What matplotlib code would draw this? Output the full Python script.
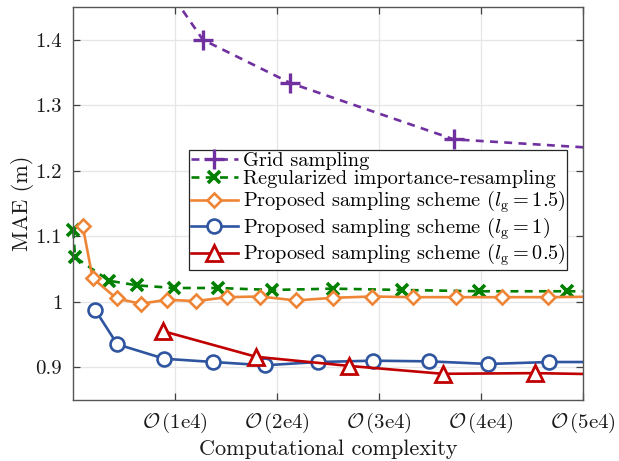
import matplotlib
matplotlib.use("Agg")
import matplotlib.pyplot as plt
from matplotlib.ticker import FixedLocator

plt.rcParams['font.family'] = 'serif'
plt.rcParams['font.serif'] = ['cmr10']
plt.rcParams['mathtext.fontset'] = 'cm'
plt.rcParams['axes.unicode_minus'] = False
plt.rcParams['axes.formatter.use_mathtext'] = True

# ---- data (x in units of computations, y = MAE in m) ----
grid_x = [0.90e4, 1.272e4, 2.13e4, 3.735e4, 5.3e4]
grid_y = [1.484, 1.400, 1.334, 1.248, 1.233]

reg_x = [0.0, 0.017e4, 0.353e4, 0.628e4, 0.99e4, 1.423e4, 1.948e4, 2.553e4,
         3.224e4, 3.986e4, 4.844e4, 5.0e4]
reg_y = [1.109, 1.068, 1.032, 1.025, 1.021, 1.021, 1.018, 1.020,
         1.018, 1.016, 1.016, 1.016]

p15_x = [0.092e4, 0.19e4, 0.426e4, 0.66e4, 0.923e4, 1.2e4, 1.512e4, 1.833e4,
         2.187e4, 2.547e4, 2.93e4, 3.332e4, 3.757e4, 4.206e4, 4.664e4, 5.3e4]
p15_y = [1.116, 1.036, 1.005, 0.997, 1.003, 1.001, 1.007, 1.008,
         1.002, 1.006, 1.008, 1.007, 1.007, 1.007, 1.007, 1.008]

p1_x = [0.213e4, 0.432e4, 0.893e4, 1.375e4, 1.882e4, 2.406e4, 2.94e4,
        3.496e4, 4.075e4, 4.674e4, 5.3e4]
p1_y = [0.988, 0.935, 0.913, 0.908, 0.903, 0.908, 0.910,
        0.909, 0.905, 0.908, 0.908]

p05_x = [0.884e4, 1.794e4, 2.71e4, 3.627e4, 4.533e4, 5.3e4]
p05_y = [0.955, 0.916, 0.902, 0.890, 0.891, 0.889]

xticks = [1e4, 2e4, 3e4, 4e4, 5e4]
xticklabels = [r'$\mathcal{O}\,(\mathrm{1e4})$', r'$\mathcal{O}\,(\mathrm{2e4})$',
               r'$\mathcal{O}\,(\mathrm{3e4})$', r'$\mathcal{O}\,(\mathrm{4e4})$',
               r'$\mathcal{O}\,(\mathrm{5e4})$']
yticks = [0.9, 1.0, 1.1, 1.2, 1.3, 1.4]
yticklabels = ['0.9', '1', '1.1', '1.2', '1.3', '1.4']

labels = ['Grid sampling', 'Regularized importance-resampling',
          r'Proposed sampling scheme ($l_{\mathrm{g}}=1.5$)',
          r'Proposed sampling scheme ($l_{\mathrm{g}}=1$)',
          r'Proposed sampling scheme ($l_{\mathrm{g}}=0.5$)']

c_purple = '#7030A0'
c_green = '#008000'
c_orange = '#EE8536'
c_blue = '#2F55A0'
c_red = '#C00000'

fig = plt.figure(figsize=(6.19, 4.61), dpi=100)
ax = fig.add_axes([73.3/619, 1-400/461, (582.6-73.3)/619, (400-7)/461])

lw = 1.9
dash = (0, (3.0, 2.4))
ax.plot(grid_x, grid_y, color=c_purple, lw=lw, ls=dash, marker='+',
        ms=14, mew=2.4, label=labels[0])
ax.plot(reg_x, reg_y, color=c_green, lw=lw, ls=dash, marker='x',
        ms=9, mew=2.6, label=labels[1], clip_on=False,
        markevery=list(range(len(reg_x) - 1)))
ax.plot(p15_x, p15_y, color=c_orange, lw=lw, marker='D', ms=7.5, mew=1.9,
        mfc='white', label=labels[2])
ax.plot(p1_x, p1_y, color=c_blue, lw=lw, marker='o', ms=10, mew=1.9,
        mfc='white', label=labels[3])
ax.plot(p05_x, p05_y, color=c_red, lw=lw, marker='^', ms=11, mew=2.0,
        mfc='white', label=labels[4])

ax.set_xlim(0, 5e4)
ax.set_ylim(0.85, 1.45)
ax.xaxis.set_major_locator(FixedLocator(xticks))
ax.set_xticklabels(xticklabels)
ax.yaxis.set_major_locator(FixedLocator(yticks))
ax.set_yticklabels(yticklabels)
ax.grid(True, color='#e6e6e6', lw=0.9)
ax.set_axisbelow(True)
ax.tick_params(direction='in', length=5, width=0.9, color='#404040',
               top=True, right=True, labelsize=15, pad=8, labelcolor='#1a1a1a')
for s in ax.spines.values():
    s.set_color('#555555')
    s.set_linewidth(1.0)

ax.set_xlabel('Computational complexity', fontsize=16, color='#1a1a1a', labelpad=3)
ax.set_ylabel('MAE (m)', fontsize=16, color='#1a1a1a', labelpad=1)

leg = ax.legend(loc='upper left', bbox_to_anchor=((189-73.3)/509.3, 1-(150-7)/393),
                fontsize=14.6, frameon=True, fancybox=False, handlelength=2.3,
                handletextpad=0.25, borderpad=0.1, labelspacing=0.0,
                borderaxespad=0)
leg.get_frame().set_edgecolor('#262626')
leg.get_frame().set_linewidth(0.9)
leg.get_frame().set_alpha(1)

fig.savefig('out.png', dpi=100)
